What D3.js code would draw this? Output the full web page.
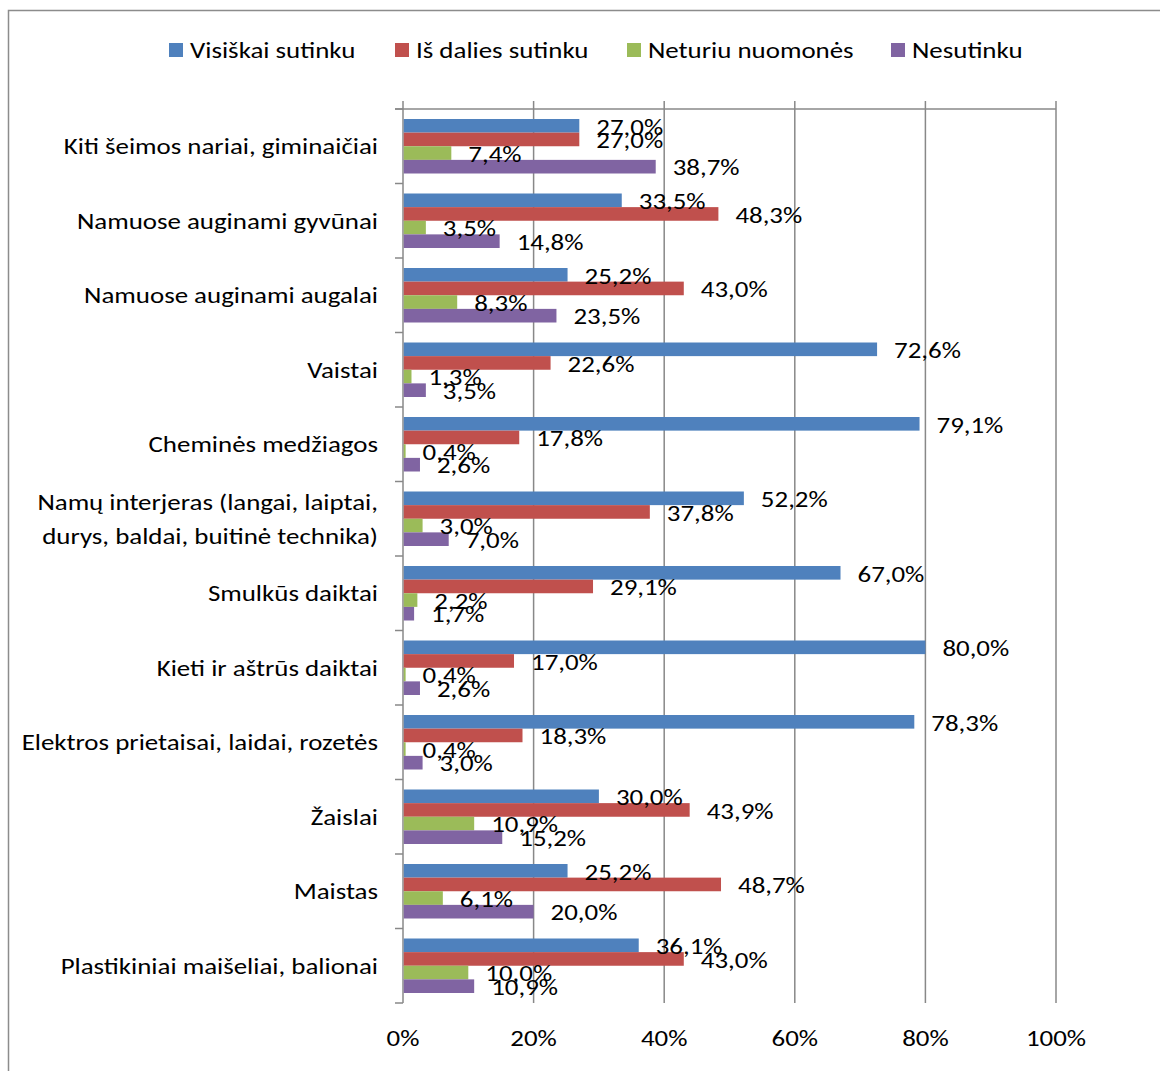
<!DOCTYPE html>
<html>
<head>
<meta charset="utf-8">
<script src="https://cdn.jsdelivr.net/npm/d3@7"></script>
<style>
  html, body { margin: 0; padding: 0; background: #fff; }
  svg { display: block; }
  text { font-family: Carlito, Calibri, Lato, sans-serif; fill: #000; }
</style>
</head>
<body>
<svg id="chart" width="1160" height="1071"></svg>
<script>
const categories = [
  ["Kiti šeimos nariai, giminaičiai"],
  ["Namuose auginami gyvūnai"],
  ["Namuose auginami augalai"],
  ["Vaistai"],
  ["Cheminės medžiagos"],
  ["Namų interjeras (langai, laiptai,", "durys, baldai, buitinė technika)"],
  ["Smulkūs daiktai"],
  ["Kieti ir aštrūs daiktai"],
  ["Elektros prietaisai, laidai, rozetės"],
  ["Žaislai"],
  ["Maistas"],
  ["Plastikiniai maišeliai, balionai"]
];
const seriesNames = ["Visiškai sutinku", "Iš dalies sutinku", "Neturiu nuomonės", "Nesutinku"];
const seriesColors = ["#4F81BD", "#C0504D", "#9BBB59", "#8064A2"];
const visiskaiSutinku = [27.0, 33.5, 25.2, 72.6, 79.1, 52.2, 67.0, 80.0, 78.3, 30.0, 25.2, 36.1];
const isDaliesSutinku = [27.0, 48.3, 43.0, 22.6, 17.8, 37.8, 29.1, 17.0, 18.3, 43.9, 48.7, 43.0];
const neturiuNuomones = [7.4, 3.5, 8.3, 1.3, 0.4, 3.0, 2.2, 0.4, 0.4, 10.9, 6.1, 10.0];
const nesutinku = [38.7, 14.8, 23.5, 3.5, 2.6, 7.0, 1.7, 2.6, 3.0, 15.2, 20.0, 10.9];
const seriesValues = [visiskaiSutinku, isDaliesSutinku, neturiuNuomones, nesutinku];
const xTicks = [0, 20, 40, 60, 80, 100];
const xTickLabels = ["0%", "20%", "40%", "60%", "80%", "100%"];

const FS = 23;
const SX = 1.17;   // horizontal stretch of the text, as in the reference
const svg = d3.select("#chart");
const axisColor = "#888888";
const tr = (px, py) => `translate(${px},${py}) scale(${SX},1)`;

// chart border (extends past right/bottom edges)
svg.append("rect").attr("x", 8.5).attr("y", 10.5).attr("width", 1200).attr("height", 1100)
  .attr("fill", "none").attr("stroke", "#8c8c8c").attr("stroke-width", 1.5);

const x = d3.scaleLinear().domain([0, 100]).range([403, 1056]);
const y = d3.scaleBand().domain(d3.range(categories.length)).range([109, 1003]).padding(0);
const bw = y.bandwidth();
const ys = d3.scaleBand().domain(d3.range(seriesNames.length)).range([10, bw - 10]).padding(0);

// gridlines
svg.append("g").selectAll("line").data(xTicks).join("line")
  .attr("x1", d => x(d)).attr("x2", d => x(d))
  .attr("y1", 101).attr("y2", 1003)
  .attr("stroke", axisColor).attr("stroke-width", 1.5);

// top horizontal axis line
svg.append("line").attr("x1", x(0) - 8).attr("x2", x(100)).attr("y1", 109).attr("y2", 109)
  .attr("stroke", axisColor).attr("stroke-width", 1.5);

// category tick marks at band boundaries
const bounds = d3.range(categories.length + 1).map(i => 109 + i * y.step());
svg.append("g").selectAll("line").data(bounds).join("line")
  .attr("x1", x(0) - 8).attr("x2", x(0)).attr("y1", d => d).attr("y2", d => d)
  .attr("stroke", axisColor).attr("stroke-width", 1.5);

// bars
const barData = [];
categories.forEach((c, i) => {
  seriesValues.forEach((vals, s) => {
    barData.push({ i, s, v: vals[i] });
  });
});
svg.append("g").selectAll("rect").data(barData).join("rect")
  .attr("x", x(0) + 0.75)
  .attr("y", d => y(d.i) + ys(d.s))
  .attr("width", d => Math.max(0, x(d.v) - x(0) - 0.75))
  .attr("height", ys.bandwidth())
  .attr("fill", d => seriesColors[d.s]);

// data labels
svg.append("g").selectAll("text").data(barData).join("text")
  .attr("transform", d => tr(x(d.v) + 17, y(d.i) + ys(d.s) + ys.bandwidth() / 2 + 1))
  .attr("dominant-baseline", "central")
  .attr("font-size", FS)
  .text(d => d.v.toFixed(1).replace(".", ",") + "%");

// category labels
const catG = svg.append("g");
categories.forEach((lines, i) => {
  const cy = y(i) + bw / 2;
  const lh = 34;
  lines.forEach((ln, k) => {
    catG.append("text")
      .attr("transform", tr(378, cy + (k - (lines.length - 1) / 2) * lh))
      .attr("text-anchor", "end")
      .attr("dominant-baseline", "central")
      .attr("font-size", FS)
      .text(ln);
  });
});

// x tick labels at bottom
svg.append("g").selectAll("text").data(xTicks).join("text")
  .attr("transform", d => tr(x(d), 1038))
  .attr("text-anchor", "middle").attr("dominant-baseline", "central")
  .attr("font-size", FS)
  .text((d, i) => xTickLabels[i]);

// legend
const legX = [169, 395, 627, 891];
const leg = svg.append("g").selectAll("g").data(seriesNames).join("g")
  .attr("transform", (d, i) => `translate(${legX[i]},43)`);
leg.append("rect").attr("width", 14).attr("height", 14).attr("fill", (d, i) => seriesColors[i]);
leg.append("text").attr("transform", tr(21, 7.5)).attr("dominant-baseline", "central")
  .attr("font-size", FS).text(d => d);
</script>
</body>
</html>
